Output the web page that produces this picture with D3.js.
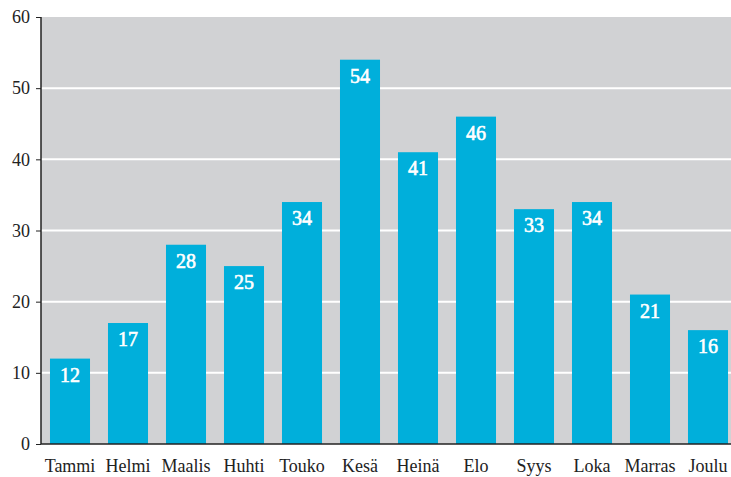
<!DOCTYPE html>
<html><head><meta charset="utf-8">
<script src="https://cdn.jsdelivr.net/npm/d3@7"></script>
<style>body{margin:0;background:#fff}</style>
</head><body><svg id="c" width="731" height="477"></svg>
<script>
const months = ["Tammi","Helmi","Maalis","Huhti","Touko","Kesä","Heinä","Elo","Syys","Loka","Marras","Joulu"];
const values = [12,17,28,25,34,54,41,46,33,34,21,16];
const yTicks = [0,10,20,30,40,50,60];

const svg = d3.select("#c");
const L = 41, R = 731, T = 17, B = 444;
const x = d3.scaleBand().domain(months).range([L, L + 12*58]).paddingInner(0.31).paddingOuter(0.155);
const y = d3.scaleLinear().domain([0,60]).range([B, T]);
const font = "'Liberation Serif', 'DejaVu Serif', serif";

svg.append("rect").attr("x", L).attr("y", T).attr("width", R-L).attr("height", B-T).attr("fill", "#d1d2d4");
svg.append("g").selectAll("line").data(yTicks.filter(d => d>0 && d<60)).join("line")
  .attr("x1", L).attr("x2", R).attr("y1", d=>y(d)).attr("y2", d=>y(d))
  .attr("stroke", "#fff").attr("stroke-width", 2);

svg.append("g").selectAll("rect").data(values).join("rect")
  .attr("x", (d,i)=>x(months[i])).attr("width", x.bandwidth())
  .attr("y", d=>y(d)).attr("height", d=>B-y(d)).attr("fill", "#00afdb");

svg.append("g").selectAll("text").data(values).join("text")
  .attr("x", (d,i)=>x(months[i])+x.bandwidth()/2).attr("y", d=>y(d)+23)
  .attr("text-anchor","middle").attr("fill","#fff").attr("stroke","#fff").attr("stroke-width",0.6)
  .attr("font-family",font).attr("font-size",20).text(d=>d);

const ya = svg.append("g").attr("transform",`translate(${L},0)`)
  .call(d3.axisLeft(y).tickValues(yTicks).tickSize(5).tickPadding(6));
ya.select(".domain").attr("stroke","#222").attr("stroke-width",1.5).attr("d",`M0,${T}V${B}`);
ya.selectAll("line").attr("stroke","#222");
ya.selectAll("text").attr("font-family",font).attr("font-size",18).attr("fill","#222");

const xa = svg.append("g").attr("transform",`translate(0,${B})`)
  .call(d3.axisBottom(x).tickSize(0).tickPadding(15));
xa.select(".domain").attr("stroke","#222").attr("stroke-width",1.5).attr("d",`M${L},0H${R}`);
xa.selectAll("text").attr("font-family",font).attr("font-size",18).attr("fill","#222");
</script></body></html>
